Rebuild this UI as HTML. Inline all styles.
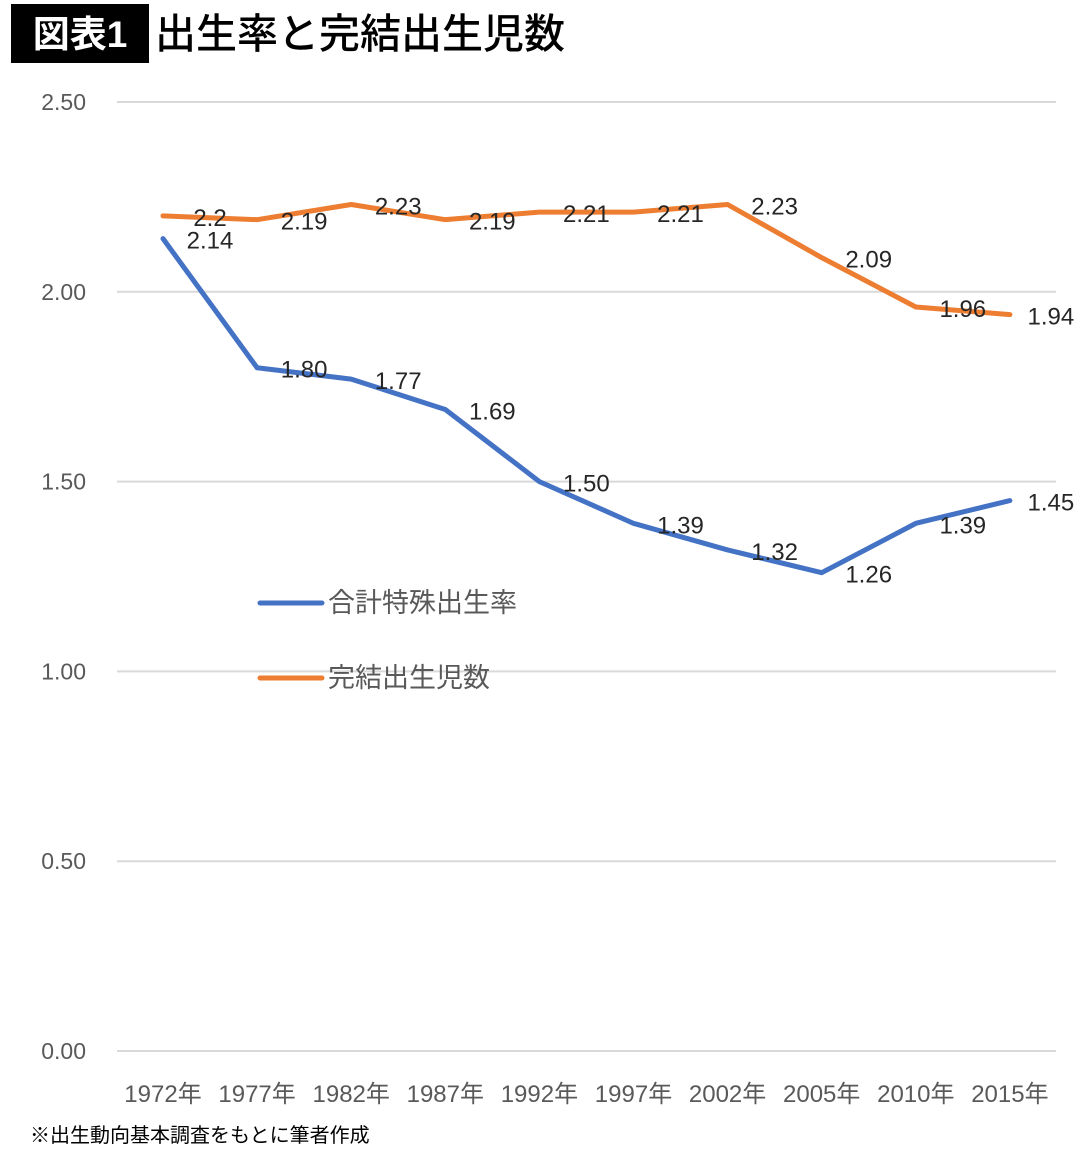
<!DOCTYPE html>
<html><head><meta charset="utf-8"><style>
body{margin:0;background:#fff;width:1080px;height:1150px;overflow:hidden;font-family:"Liberation Sans","Noto Sans CJK JP",sans-serif;}
</style></head><body>
<svg width="1080" height="1150" xmlns="http://www.w3.org/2000/svg" font-family="Liberation Sans, Noto Sans CJK JP, sans-serif">
<rect x="11" y="4" width="138" height="59" fill="#000"/>
<text x="80" y="47" fill="#fff" font-size="37" font-weight="bold" text-anchor="middle">図表1</text>
<text x="155" y="48" fill="#000" font-size="41" font-weight="500">出生率と完結出生児数</text>
<g id="grid"></g><g id="lines"></g><g id="labels"></g>
<line x1="260" y1="603" x2="322" y2="603" stroke="#4472C4" stroke-width="5" stroke-linecap="round"/>
<text x="328" y="612" font-size="27" fill="#595959">合計特殊出生率</text>
<line x1="260" y1="678" x2="322" y2="678" stroke="#ED7D31" stroke-width="5" stroke-linecap="round"/>
<text x="328" y="687" font-size="27" fill="#595959">完結出生児数</text>
<text x="30" y="1142" font-size="20" fill="#000">※出生動向基本調査をもとに筆者作成</text>
</svg>
<script>
const categories=["1972年","1977年","1982年","1987年","1992年","1997年","2002年","2005年","2010年","2015年"];
const tfrValues=[2.14,1.80,1.77,1.69,1.50,1.39,1.32,1.26,1.39,1.45];
const completedValues=[2.2,2.19,2.23,2.19,2.21,2.21,2.23,2.09,1.96,1.94];
const tfrLabels=["2.14","1.80","1.77","1.69","1.50","1.39","1.32","1.26","1.39","1.45"];
const completedLabels=["2.2","2.19","2.23","2.19","2.21","2.21","2.23","2.09","1.96","1.94"];
const yTicks=[0,0.5,1,1.5,2,2.5];
const yTickLabels=["0.00","0.50","1.00","1.50","2.00","2.50"];
const NS="http://www.w3.org/2000/svg";
const y=v=>1051-v*379.6;
const x=i=>163+i*94.1;
function mk(tag,attrs,parent,txt){const e=document.createElementNS(NS,tag);for(const k in attrs)e.setAttribute(k,attrs[k]);if(txt!=null)e.textContent=txt;parent.appendChild(e);return e;}
const grid=document.getElementById('grid'),lines=document.getElementById('lines'),labels=document.getElementById('labels');
yTicks.forEach((t,i)=>{
 const l=mk('line',{x1:117,x2:1056,y1:y(t),y2:y(t),stroke:'#D9D9D9','stroke-width':2},grid);
 
 
 const tx=mk('text',{x:86,y:y(t)+8,'font-size':23,fill:'#595959','text-anchor':'end'},grid,yTickLabels[i]);
 
 
});
categories.forEach((c,i)=>{
 const tx=mk('text',{x:x(i),y:1102,'font-size':24,fill:'#595959','text-anchor':'middle'},grid,c);
 
 
});
function series(vals,labs,color,name){
 const p=mk('polyline',{points:vals.map((v,i)=>x(i)+','+y(v)).join(' '),fill:'none',stroke:color,'stroke-width':5,'stroke-linejoin':'round','stroke-linecap':'round'},lines);
 
 
 vals.forEach((v,i)=>{
  const tx=mk('text',{x:x(i)+(i==9?41:47),y:y(v)+10,'font-size':24,fill:'#262626','text-anchor':'middle'},labels,labs[i]);
  
  
 });
}
series(completedValues,completedLabels,'#ED7D31','completed-fertility');
series(tfrValues,tfrLabels,'#4472C4','total-fertility-rate');
</script>
</body></html>
